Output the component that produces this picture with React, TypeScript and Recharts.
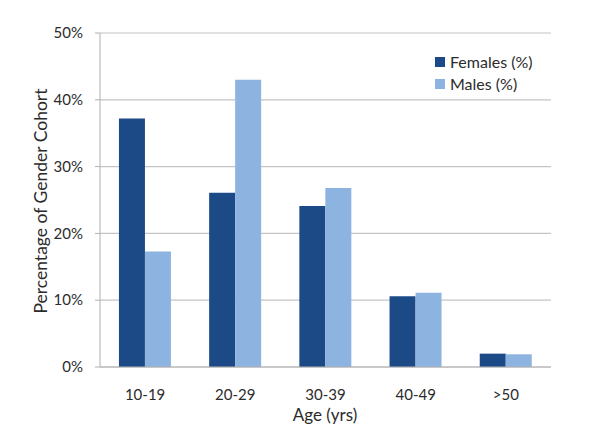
import React from 'react';
import { BarChart, Bar, XAxis, YAxis, CartesianGrid, Label } from 'recharts';

const categories = ['10-19', '20-29', '30-39', '40-49', '>50'];
const females = [37.2, 26.1, 24.1, 10.6, 2.0];
const males = [17.3, 43.0, 26.8, 11.1, 1.9];
const yTicks = [0, 10, 20, 30, 40, 50];
const seriesNames = ['Females (%)', 'Males (%)'];

const data = categories.map((c, i) => ({ age: c, females: females[i], males: males[i] }));

const FONT = 'Lato, "Open Sans", sans-serif';
const TEXT = '#2b2b2b';
const F_COLOR = '#1c4a86';
const M_COLOR = '#8db4e0';

const YTick = (props: any) => {
  const { x, y, payload } = props;
  return (
    <text x={x - 10} y={y} dy="0.35em" textAnchor="end" fontFamily={FONT} fontSize={15} fill={TEXT}>
      {payload.value}%
    </text>
  );
};

const XTick = (props: any) => {
  const { x, y, payload } = props;
  return (
    <text x={x} y={y + 25} textAnchor="middle" fontFamily={FONT} fontSize={15} fill={TEXT}>
      {payload.value}
    </text>
  );
};

export default function App() {
  return (
    <div style={{ position: 'absolute', left: 0, top: 0, width: 600, height: 444, background: '#fff' }}>
      <BarChart
        width={600}
        height={444}
        data={data}
        margin={{ top: 33, right: 49, left: 0, bottom: 0 }}
        barCategoryGap="21%"
        barGap={0}
      >
        <CartesianGrid vertical={false} stroke="#c4c4c4" strokeWidth={1.2} />
        <XAxis
          dataKey="age"
          height={77}
          axisLine={{ stroke: '#b0b0b0' }}
          tickLine={false}
          tick={<XTick />}
          interval={0}
        >
          <Label
            content={() => (
              <text x={325} y={421} textAnchor="middle" fontFamily={FONT} fontSize={17} fill={TEXT}>
                Age (yrs)
              </text>
            )}
          />
        </XAxis>
        <YAxis
          width={100}
          domain={[0, 50]}
          ticks={yTicks}
          axisLine={{ stroke: '#b0b0b0' }}
          tickLine={{ stroke: '#b0b0b0' }}
          tickSize={5}
          tick={<YTick />}
          interval={0}
        >
          <Label
            content={() => (
              <text
                x={47}
                y={201}
                textAnchor="middle"
                fontFamily={FONT}
                fontSize={17.5}
                fill={TEXT}
                transform="rotate(-90 47 201)"
              >
                Percentage of Gender Cohort
              </text>
            )}
          />
        </YAxis>
        <Bar dataKey="females" name={seriesNames[0]} fill={F_COLOR} isAnimationActive={false} />
        <Bar dataKey="males" name={seriesNames[1]} fill={M_COLOR} isAnimationActive={false} />
      </BarChart>
      <div
        style={{
          position: 'absolute',
          left: 435,
          top: 51,
          fontFamily: FONT,
          fontSize: 16,
          color: TEXT,
          lineHeight: '22px',
        }}
      >
        {[F_COLOR, M_COLOR].map((color, i) => (
          <div key={seriesNames[i]} style={{ display: 'flex', alignItems: 'center' }}>
            <span style={{ display: 'inline-block', width: 10, height: 10, background: color, marginRight: 5 }} />
            <span>{seriesNames[i]}</span>
          </div>
        ))}
      </div>
    </div>
  );
}
